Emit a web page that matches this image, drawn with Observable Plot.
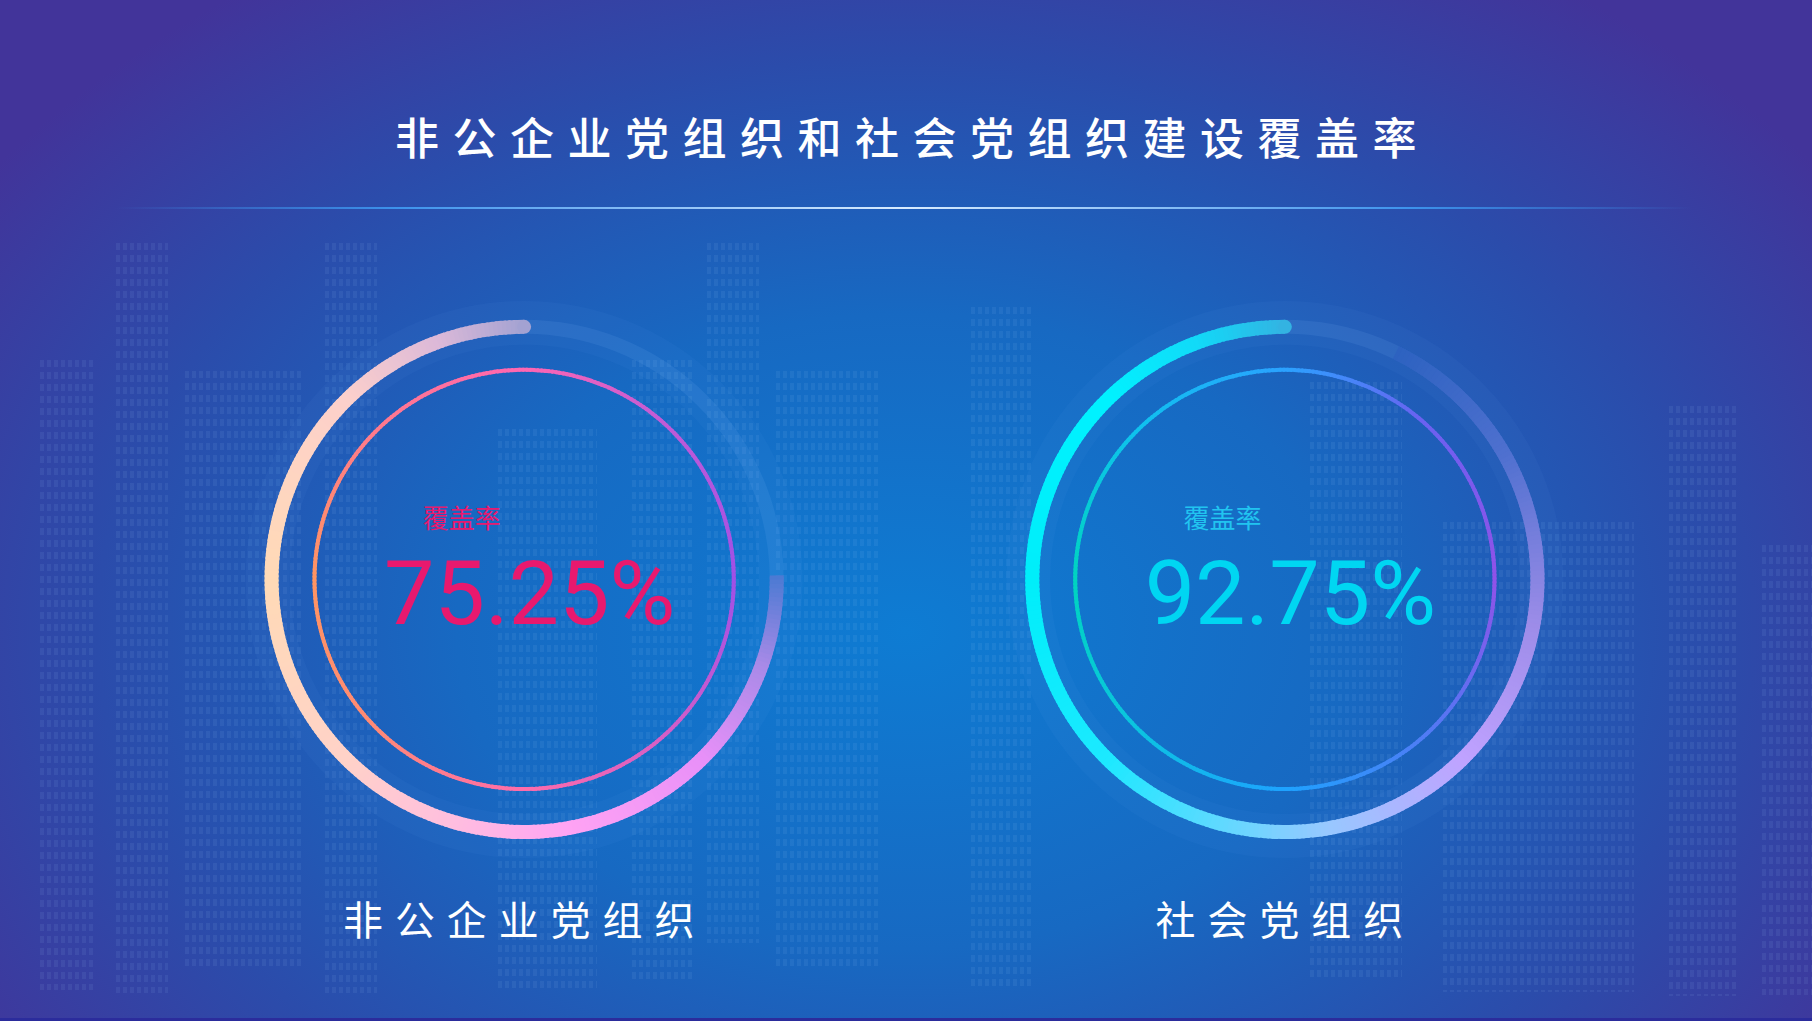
<!DOCTYPE html>
<html>
<head>
<meta charset="utf-8">
<script src="https://cdn.jsdelivr.net/npm/d3@7"></script>
<script src="https://cdn.jsdelivr.net/npm/@observablehq/plot@0.6"></script>
<style>
  html, body { margin: 0; padding: 0; }
  body { width: 1815px; height: 1021px; overflow: hidden; background: #fff; font-family: "Noto Sans CJK SC", "Noto Sans", sans-serif; }
  #page {
    position: relative; width: 1812px; height: 1018px; overflow: hidden;
    border-bottom: 3px solid #2b2c9c;
    background: radial-gradient(ellipse 62% 78% at 50% 62%, #0e7cd3 0%, #1769c2 40%, #2b4cab 72%, #42349a 100%);
  }
  .bld {
    position: absolute; opacity: 0.08;
    background: repeating-linear-gradient(90deg, #a8d4ff 0 4px, transparent 4px 7px);
    -webkit-mask-image: repeating-linear-gradient(180deg, #000 0 7px, transparent 7px 12px);
    mask-image: repeating-linear-gradient(180deg, #000 0 7px, transparent 7px 12px);
  }
  #head { position: relative; height: 230px; }
  #title {
    position: absolute; left: 0; right: 0; top: 106px; line-height: 60px;
    text-align: center; color: #fff; font-size: 44px; font-weight: 500;
    letter-spacing: 13.5px; padding-left: 13px;
  }
  #rule {
    position: absolute; left: 116px; width: 1576px; top: 207px; height: 2px;
    background: linear-gradient(90deg, rgba(60,140,240,0), #3d93ec 18%, #d8ecff 50%, #3d93ec 82%, rgba(60,140,240,0));
  }
  #chart { position: relative; }
  #chart svg g[aria-label^="x-axis"] text { letter-spacing: 12px; }
</style>
</head>
<body>
<div id="page">
  <div class="bld" style="left:116px;top:243px;width:52px;height:750px"></div>
  <div class="bld" style="left:325px;top:243px;width:52px;height:750px"></div>
  <div class="bld" style="left:707px;top:243px;width:52px;height:700px"></div>
  <div class="bld" style="left:40px;top:360px;width:53px;height:630px"></div>
  <div class="bld" style="left:185px;top:371px;width:116px;height:600px"></div>
  <div class="bld" style="left:498px;top:429px;width:99px;height:560px"></div>
  <div class="bld" style="left:632px;top:360px;width:63px;height:620px"></div>
  <div class="bld" style="left:776px;top:371px;width:105px;height:600px"></div>
  <div class="bld" style="left:971px;top:307px;width:60px;height:680px"></div>
  <div class="bld" style="left:1310px;top:382px;width:92px;height:600px"></div>
  <div class="bld" style="left:1443px;top:522px;width:191px;height:470px"></div>
  <div class="bld" style="left:1669px;top:406px;width:70px;height:590px"></div>
  <div class="bld" style="left:1762px;top:545px;width:50px;height:450px"></div>
  <div id="head">
    <div id="title">非公企业党组织和社会党组织建设覆盖率</div>
    <div id="rule"></div>
  </div>
  <div id="chart"></div>
</div>
<script>
// 数据
const categories = ["非公企业党组织", "社会党组织"];
const rates = [75.25, 92.75];
const rateLabel = "覆盖率";

const data = categories.map((name, i) => ({name, rate: rates[i], i}));

// 每个环的配色（角度：从正上方逆时针的度数）
const outerStops = [
  {a: [0, 20, 45, 90, 135, 165, 190, 225, 250, 271],
   c: ["#a3a2d2", "#dcb9d8", "#fdd0cb", "#ffdab6", "#ffd2c8", "#ffbde0", "#ffa3f3", "#e890f8", "#a98ae8", "#4a7ad2"]},
  {a: [0, 20, 45, 90, 135, 165, 190, 225, 260, 300, 334],
   c: ["#33b3e2", "#12d9f8", "#00f2ff", "#00eefa", "#1ce9ff", "#5fd9ff", "#98c8ff", "#c0a2ff", "#9c8ce8", "#4e70cf", "#2d62c0"]}
];
const innerStops = [
  {a: [0, 45, 90, 135, 180, 230, 270, 320, 360],
   c: ["#ff66b2", "#ff7a8c", "#ff9562", "#ff8a76", "#ff6cab", "#cc5ccc", "#a050e6", "#c25cd6", "#ff66b2"]},
  {a: [0, 45, 90, 135, 180, 230, 270, 320, 360],
   c: ["#2ba2ff", "#0fc2ee", "#00d4c0", "#0cc4e0", "#1ea2ff", "#5a74f2", "#9152e8", "#6a62f0", "#2ba2ff"]}
];
const numberColors = ["#e8196e", "#00d6f2"];
const labelColors = ["#e8196e", "#21c4f0"];

function rings(index, scales) {
  const x = scales.x, y = scales.y;
  const bw = x.bandwidth ? x.bandwidth() : 0;
  const g = d3.create("svg:g");
  const rad = Math.PI / 180;
  for (const d of data) {
    const cx = x(d.name) + bw / 2;
    const cy = y(0);
    const R = Math.abs(y(0) - y(1));
    const r = Math.abs(y(0) - y(0.83));
    const ring = g.append("g").attr("transform", `translate(${cx},${cy})`);

    // 光晕与底轨
    ring.append("circle").attr("r", R + 4).attr("fill", "none")
      .attr("stroke", "#7fb4ff").attr("stroke-opacity", 0.05).attr("stroke-width", 44);
    ring.append("circle").attr("r", R).attr("fill", "none")
      .attr("stroke", "#8cc0ff").attr("stroke-opacity", 0.11).attr("stroke-width", 14);

    // 外环：覆盖率
    const os = outerStops[d.i];
    const oc = d3.scaleLinear().domain(os.a).range(os.c).interpolate(d3.interpolateRgb).clamp(true);
    const total = d.rate / 100 * 360;
    const arcO = d3.arc().innerRadius(R - 7).outerRadius(R + 7);
    for (let a = 0; a < total; a += 1) {
      const a1 = Math.min(a + 1.5, total);
      ring.append("path")
        .attr("d", arcO({startAngle: -a * rad, endAngle: -a1 * rad}))
        .attr("fill", oc(a + 0.5));
    }
    ring.append("circle").attr("cx", 0).attr("cy", -R).attr("r", 7).attr("fill", oc(0));

    // 内环
    const is = innerStops[d.i];
    const ic = d3.scaleLinear().domain(is.a).range(is.c).interpolate(d3.interpolateRgb);
    const arcI = d3.arc().innerRadius(r - 2).outerRadius(r + 2);
    for (let a = 0; a < 360; a += 1) {
      ring.append("path")
        .attr("d", arcI({startAngle: -a * rad, endAngle: -(a + 1.5) * rad}))
        .attr("fill", ic(a + 0.5));
    }
  }
  return g.node();
}

const chart = Plot.plot({
  width: 1815,
  height: 791,
  marginLeft: 144,
  marginRight: 147,
  marginTop: 0,
  marginBottom: 117,
  x: {type: "band", domain: categories, padding: 0, tickSize: 0, tickPadding: 3, label: null},
  y: {domain: [-1, 1], range: [603, 97], axis: null},
  color: {type: "identity"},
  style: {background: "transparent", color: "#ffffff", fontFamily: "'Noto Sans CJK SC', sans-serif", fontSize: "40px", overflow: "visible"},
  marks: [
    rings,
    Plot.text(data, {
      x: "name", y: 0, text: () => rateLabel, textAnchor: "start",
      dx: -102, dy: -60, fontSize: 26, fill: d => labelColors[d.i]
    }),
    Plot.text(data, {
      x: "name", y: 0, text: d => d.rate.toFixed(2) + "%",
      dx: 5, dy: 15, fontSize: 90, fontFamily: "Roboto, sans-serif",
      fill: d => numberColors[d.i]
    })
  ]
});

d3.select("#chart").append(() => chart);
</script>
</body>
</html>
